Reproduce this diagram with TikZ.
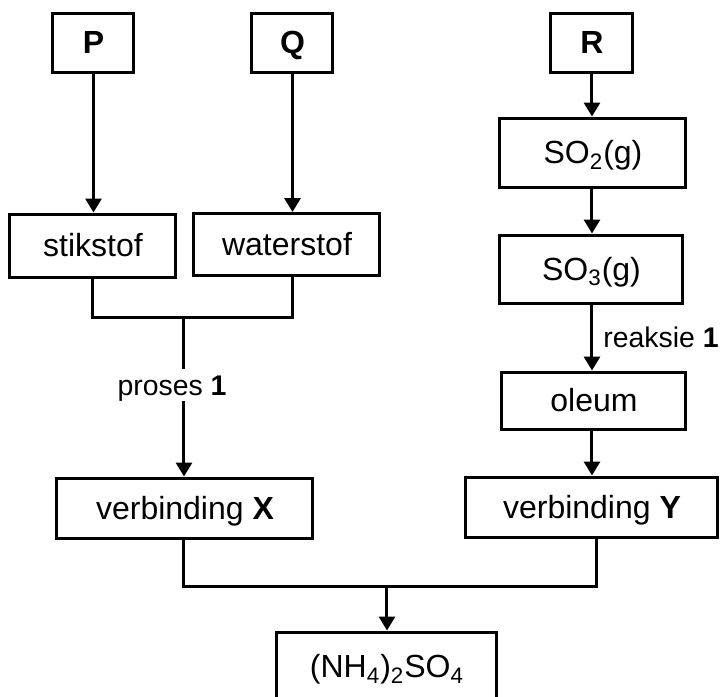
\documentclass[tikz,border=0pt]{standalone}
\usepackage{fontspec}
\setmainfont{Liberation Sans}
\usetikzlibrary{arrows.meta,calc}
\begin{document}
\begin{tikzpicture}[x=0.5pt,y=-0.5pt,
  box/.style={draw, line width=1.5pt, inner sep=0pt, text height=11.46pt, text depth=0pt,
    font=\fontsize{16}{19}\selectfont},
  lbl/.style={inner sep=0pt, text height=10.17pt, text depth=0pt, font=\fontsize{14.2}{17}\selectfont},
  conn/.style={line width=1.5pt},
  arr/.style={line width=1.5pt, -{Triangle[width=8pt,length=7pt]}}]
\useasboundingbox (0,0) rectangle (720,697);
\clip (0,0) rectangle (720,697);
% nodes
\node[box, minimum width=40.5pt, minimum height=29.5pt] (P) at (93.5,42.5) {\textbf{P}};
\node[box, minimum width=40.5pt, minimum height=29.5pt] (Q) at (292.5,42.5) {\textbf{Q}};
\node[box, minimum width=41pt, minimum height=29.5pt] (R) at (592,42.5) {\textbf{R}};
\node[box, minimum width=83pt, minimum height=31.5pt] (stik) at (93,245.5) {stikstof};
\node[box, minimum width=93pt, minimum height=31pt] (water) at (287,244.5) {waterstof};
\node[box, minimum width=93pt, minimum height=34.5pt] (so2) at (593,152.5) {SO\textsubscript{2}(g)};
\node[box, minimum width=91.5pt, minimum height=34pt] (so3) at (591.5,269) {SO\textsubscript{3}(g)};
\node[box, minimum width=92pt, minimum height=28.5pt] (oleum) at (594,400.5) {oleum};
\node[box, minimum width=128pt, minimum height=30pt] (X) at (185,508) {verbinding \textbf{X}};
\node[box, minimum width=126pt, minimum height=30pt] (Y) at (592,507) {verbinding \textbf{Y}};
\node[box, minimum width=110pt, minimum height=34.5pt] (nh) at (387,666.5) {(NH\textsubscript{4})\textsubscript{2}SO\textsubscript{4}};
\coordinate (j1) at (184,317);
\coordinate (j2) at (387,586);
\coordinate (jy) at (597,537);
% connectors
\draw[arr] (P.south) -- (P.south |- stik.north);
\draw[arr] (Q.south) -- (Q.south |- water.north);
\draw[arr] (R.south) -- (R.south |- so2.north);
\draw[arr] (so2.south -| R.south) -- (so3.north -| R.south);
\draw[arr] (so3.south -| R.south) -- (oleum.north -| R.south);
\draw[arr] (oleum.south -| R.south) -- (Y.north -| R.south);
\draw[conn] (stik.south) |- (j1) -| (water.south -| Q.south);
\draw[arr] (j1) -- (j1 |- X.north);
\node[lbl, fill=white, inner xsep=0pt, inner ysep=3pt, anchor=center] (proses) at (172,385) {proses \textbf{1}};
\node[lbl, anchor=west] (reaksie) at (603,337) {reaksie \textbf{1}};
\draw[conn] (X.south -| j1) |- (j2) -| (jy);
\draw[arr] (j2) -- (j2 |- nh.north);
\end{tikzpicture}
\end{document}
